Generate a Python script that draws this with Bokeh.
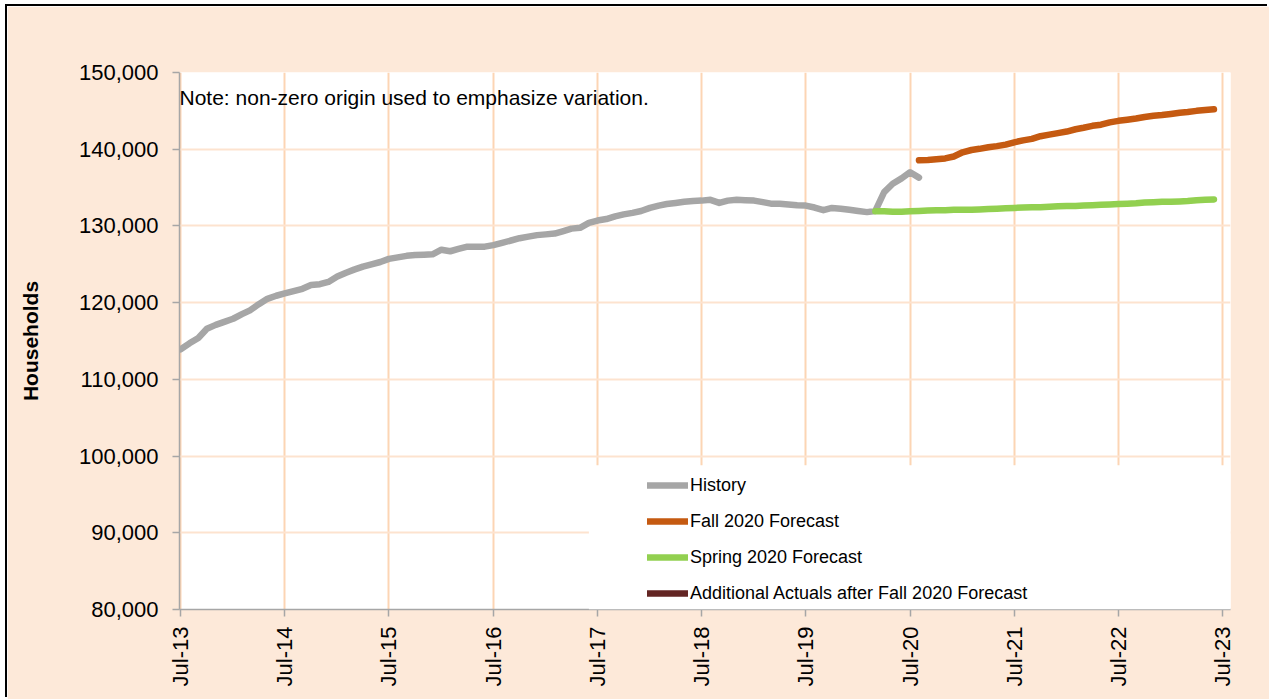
import pandas as pd
from bokeh.plotting import figure
from bokeh.models import (Range1d, FixedTicker, DatetimeTickFormatter, NumeralTickFormatter,
                          Legend, LegendItem, Label, BoxAnnotation, ColumnDataSource)
from bokeh.embed import file_html
from bokeh.resources import INLINE

# ---------------- data ----------------
history_start = "2013-07-01"
history_values = [
    113900, 114700, 115400, 116600, 117100, 117500, 117900, 118500, 119000, 119800,
    120500, 120900, 121200, 121500, 121800, 122300, 122400, 122700, 123400, 123900,
    124300, 124700, 125000, 125300, 125700, 125900, 126100, 126200, 126250, 126300,
    126900, 126700, 127000, 127300, 127300, 127300, 127500, 127800, 128100, 128400,
    128600, 128800, 128900, 129000, 129300, 129650, 129750, 130400, 130700, 130900,
    131250, 131500, 131700, 131950, 132350, 132650, 132850, 133000, 133150, 133250,
    133300, 133400, 133000, 133300, 133400, 133350, 133300, 133100, 132900, 132900,
    132800, 132700, 132650, 132400, 132050, 132350, 132250, 132100, 131950, 131800,
    131950, 134400, 135500, 136200, 137000, 136300,
]

spring_start = "2020-03-01"
spring_values = [
    131900, 131900, 131850, 131850, 131900, 131950, 132000, 132050, 132050, 132100,
    132100, 132100, 132150, 132200, 132250, 132300, 132350, 132400, 132450, 132450,
    132500, 132550, 132600, 132600, 132650, 132700, 132750, 132800, 132850, 132900,
    132950, 133050, 133100, 133150, 133150, 133200, 133250, 133350, 133400, 133450,
]

fall_start = "2020-08-01"
fall_values = [
    138550, 138600, 138700, 138800, 139050, 139600, 139900, 140050, 140250, 140400,
    140600, 140900, 141150, 141350, 141700, 141900, 142100, 142300, 142600, 142800,
    143050, 143200, 143500, 143700, 143850, 144000, 144200, 144350, 144450, 144600,
    144750, 144850, 145000, 145100, 145200,
]

# no additional actuals are drawn in the chart (placeholder only, keeps legend swatch)
additional_dates = ["2020-09-01"]
additional_values = [float("nan")]

series_names = ["History", "Fall 2020 Forecast", "Spring 2020 Forecast",
                "Additional Actuals after Fall 2020 Forecast"]
x_tick_years = list(range(2013, 2024))
y_ticks = [80000, 90000, 100000, 110000, 120000, 130000, 140000, 150000]
note_text = "Note: non-zero origin used to emphasize variation."
y_title = "Households"

# ---------------- sources ----------------
hist_src = ColumnDataSource(dict(
    x=pd.date_range(history_start, periods=len(history_values), freq="MS"), y=history_values))
spring_src = ColumnDataSource(dict(
    x=pd.date_range(spring_start, periods=len(spring_values), freq="MS"), y=spring_values))
fall_src = ColumnDataSource(dict(
    x=pd.date_range(fall_start, periods=len(fall_values), freq="MS"), y=fall_values))
add_src = ColumnDataSource(dict(x=pd.to_datetime(additional_dates), y=additional_values))

# ---------------- figure ----------------
BG = "#FDE9D9"
p = figure(width=1262, height=693, x_axis_type="datetime",
           x_range=Range1d(pd.Timestamp("2013-06-27"), pd.Timestamp("2023-07-29")),
           y_range=Range1d(80000, 150000),
           output_backend="svg", toolbar_location=None,
           min_border_left=172, min_border_right=39, min_border_top=66, min_border_bottom=90,
           background_fill_color="white", border_fill_color=BG)
p.styles = {"margin-left": "7px", "margin-top": "6px", "box-shadow": "-2px -2px 0 0 #000000"}
p.outline_line_color = None

# grids
p.xgrid.grid_line_color = "#FCD5B4"
p.xgrid.grid_line_width = 2
p.ygrid.grid_line_color = "#FDE3CF"
p.ygrid.grid_line_width = 2

# axes
tick_ms = [pd.Timestamp(f"{yr}-07-01").value // 10**6 for yr in x_tick_years]
p.xaxis.ticker = FixedTicker(ticks=tick_ms)
fmt = "%b-%y"
p.xaxis.formatter = DatetimeTickFormatter(years=fmt, months=fmt, days=fmt, hours=fmt,
                                          minutes=fmt, seconds=fmt, milliseconds=fmt,
                                          microseconds=fmt, minsec=fmt, hourmin=fmt)
p.xaxis.major_label_orientation = 1.5707963
p.yaxis.ticker = FixedTicker(ticks=y_ticks)
p.yaxis.formatter = NumeralTickFormatter(format="0,0")

for ax in (p.xaxis, p.yaxis):
    ax.axis_line_color = "#A6A6A6"
    ax.axis_line_width = 1.5
    ax.major_tick_line_color = "#A6A6A6"
    ax.major_tick_line_width = 1.5
    ax.major_tick_out = 7
    ax.major_tick_in = 0
    ax.minor_tick_line_color = None
    ax.major_label_text_font = "Liberation Sans"
    ax.major_label_text_font_size = "22px"
    ax.major_label_text_color = "black"

p.yaxis.major_label_standoff = 14
p.xaxis.major_label_standoff = 10
p.yaxis.axis_label = y_title
p.yaxis.axis_label_text_font = "Liberation Sans"
p.yaxis.axis_label_text_font_size = "21px"
p.yaxis.axis_label_text_font_style = "bold"
p.yaxis.axis_label_text_color = "black"
p.yaxis.axis_label_standoff = 34

# ---------------- lines ----------------
common = dict(line_width=6.5, line_cap="round", line_join="round")
r_hist = p.line("x", "y", source=hist_src, line_color="#A6A6A6", **common)
r_spring = p.line("x", "y", source=spring_src, line_color="#92D050", **common)
r_fall = p.line("x", "y", source=fall_src, line_color="#C55A11", **common)
r_add = p.line("x", "y", source=add_src, line_color="#632523", **common)

# white legend panel
p.add_layout(BoxAnnotation(left=pd.Timestamp("2017-06-01"), top=98800,
                           fill_color="white", fill_alpha=1.0, line_alpha=0))

legend = Legend(items=[
    LegendItem(label=series_names[0], renderers=[r_hist]),
    LegendItem(label=series_names[1], renderers=[r_fall]),
    LegendItem(label=series_names[2], renderers=[r_spring]),
    LegendItem(label=series_names[3], renderers=[r_add]),
], location=(464, 0))
legend.background_fill_alpha = 0
legend.border_line_alpha = 0
legend.padding = 4
legend.margin = 0
legend.spacing = 12
legend.glyph_width = 41
legend.glyph_height = 24
legend.label_height = 24
legend.label_standoff = 2
legend.label_text_font = "Liberation Sans"
legend.label_text_font_size = "18px"
legend.label_text_color = "black"
p.add_layout(legend, "center")

p.add_layout(Label(x=0, y=512, x_units="screen", y_units="screen", text=note_text,
                   text_font="Liberation Sans", text_font_size="21px",
                   text_color="black", text_baseline="middle"))

open("out.html", "w").write(file_html(p, INLINE))
